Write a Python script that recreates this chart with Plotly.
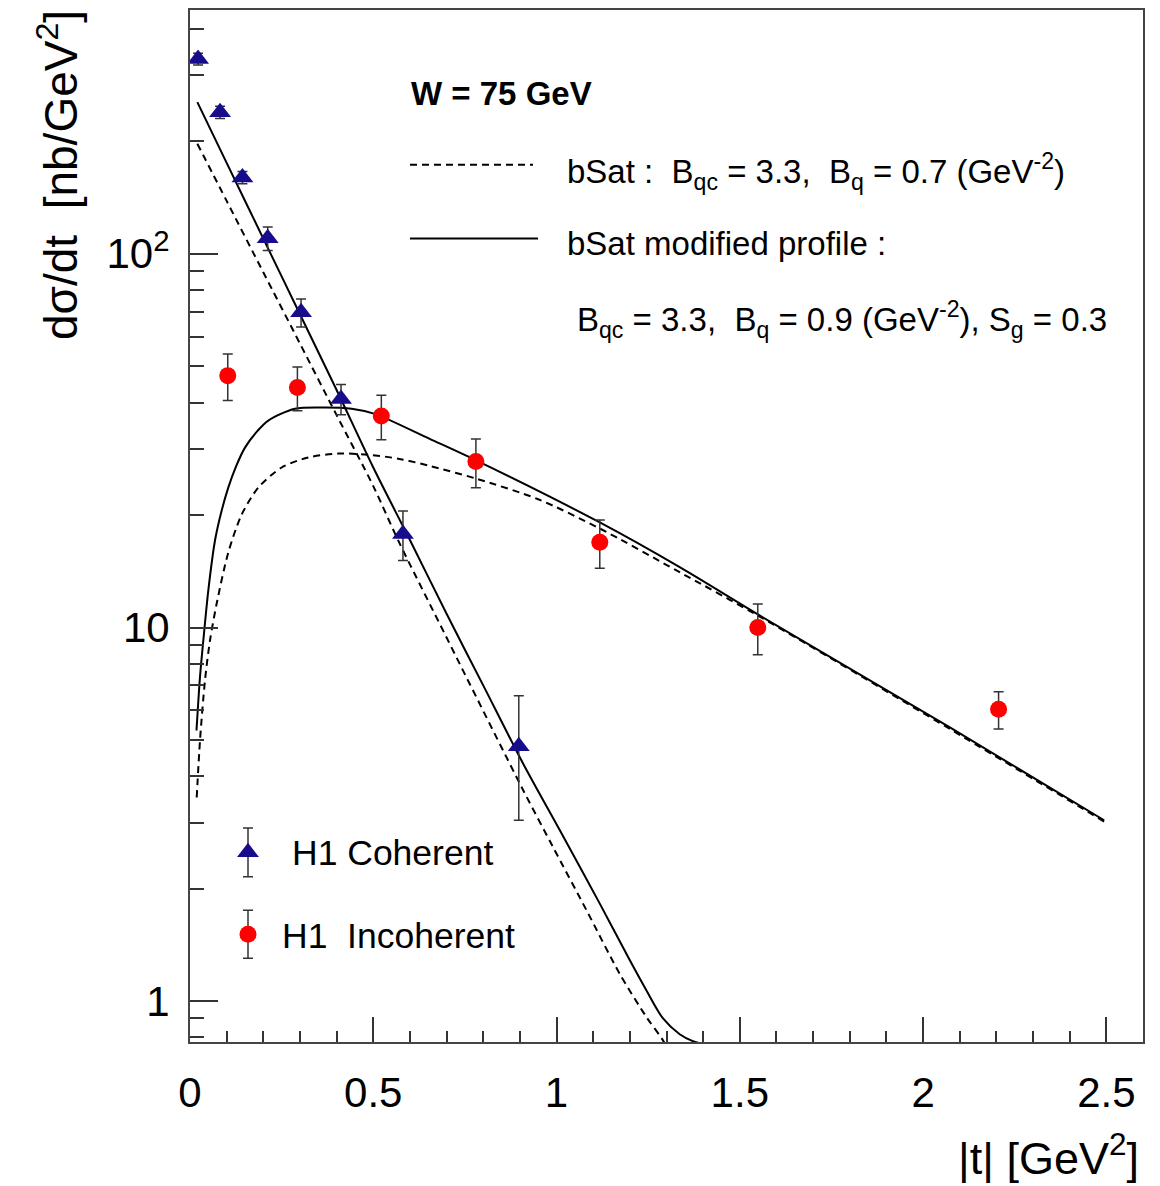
import math
import plotly.graph_objects as go

# H1 J/psi data at W = 75 GeV: |t| [GeV^2], dsigma/dt [nb/GeV^2], stat. error
coh_t = [0.022, 0.082, 0.143, 0.212, 0.303, 0.412, 0.581, 0.897]
coh_v = [332, 239, 160, 110, 69.7, 40.9, 17.8, 4.81]
coh_err = [12, 9, 6, 8, 6, 3.8, 2.7, 1.76]

inc_t = [0.103, 0.293, 0.522, 0.78, 1.118, 1.549, 2.206]
inc_v = [47.2, 43.9, 36.8, 27.8, 16.9, 10.0, 6.04]
inc_err = [6.7, 5.9, 5.0, 4.15, 2.5, 1.55, 0.69]

# bSat predictions (Bqc = 3.3, Bq = 0.7)
coh_bsat_t = [0.02, 0.1, 0.2, 0.3, 0.4, 0.5, 0.568, 0.7, 0.909, 0.99, 1.082, 1.172, 1.245, 1.29, 1.35]
coh_bsat_v = [197, 138.5, 89.2, 57.5, 37.0, 23.9, 17.1, 9.4, 3.67, 2.59, 1.75, 1.186, 0.908, 0.787, 0.62]
inc_bsat_t = [0.0183, 0.0273, 0.0409, 0.0545, 0.0728, 0.1044, 0.141, 0.1862, 0.25, 0.3225, 0.4043,
              0.486, 0.568, 0.654, 0.782, 0.95, 1.118, 1.336, 1.554, 2.072, 2.5]
inc_bsat_v = [3.51, 4.99, 7.22, 9.23, 11.59, 15.87, 20.05, 23.67, 26.8, 28.5, 29.2,
              29.0, 28.3, 27.06, 25.0, 22.04, 18.4, 14.06, 10.7, 5.36, 3.0]

# bSat with modified profile (Bqc = 3.3, Bq = 0.9, Sg = 0.3)
coh_mod_t = [0.02, 0.1, 0.2, 0.3, 0.4, 0.5, 0.6, 0.7, 0.8, 0.909, 1.009, 1.118, 1.2, 1.245, 1.29,
             1.336, 1.372, 1.42]
coh_mod_v = [254.6, 175.1, 109.8, 68.9, 43.2, 26.8, 17.15, 10.88, 7.0, 4.32, 2.866, 1.825, 1.287, 1.07, 0.901,
             0.816, 0.782, 0.76]
inc_mod_t = [0.0177, 0.0273, 0.0363, 0.0499, 0.0682, 0.0864, 0.1044, 0.1254, 0.15, 0.18, 0.2135,
             0.286, 0.368, 0.441, 0.504, 0.654, 0.782, 1.118, 1.336, 1.554, 2.072, 2.494]
inc_mod_v = [5.30, 7.39, 9.23, 12.56, 17.09, 20.55, 23.67, 26.95, 30.29, 33.22, 35.78,
             38.5, 38.8, 38.5, 37.3, 31.96, 27.96, 19.1, 14.5, 10.77, 5.41, 3.05]

x_ticks = [0, 0.5, 1, 1.5, 2, 2.5]
x_ticklabels = ["0", "0.5", "1", "1.5", "2", "2.5"]
y_ticks = [1, 10, 100]
y_ticklabels = ["1", "10", "10<sup>2</sup>"]
y_minor = [0.8, 0.9, 2, 3, 4, 5, 6, 7, 8, 9, 20, 30, 40, 50, 60, 70, 80, 90, 200, 300, 400]

FONT = "Liberation Sans, Arial, Helvetica, sans-serif"
NAVY = "#170c8c"
RED = "#ff0000"
ERR = "#333333"

W, H = 1160, 1186
L, R, T, B = 190, 17, 8, 144
PW, PH = W - L - R, H - T - B


def px(xp):
    return (xp - L) / PW


def py(yp):
    return (H - B - yp) / PH


fig = go.Figure()

line_sets = [
    (coh_bsat_t, coh_bsat_v, "7px,5px"),
    (inc_bsat_t, inc_bsat_v, "7px,5px"),
    (coh_mod_t, coh_mod_v, "solid"),
    (inc_mod_t, inc_mod_v, "solid"),
]
for tt, vv, dash in line_sets:
    fig.add_trace(go.Scatter(x=tt, y=vv, mode="lines",
                             line=dict(color="black", width=2, dash=dash, shape="spline", smoothing=0.8),
                             showlegend=False, hoverinfo="skip"))

fig.add_trace(go.Scatter(
    x=inc_t, y=inc_v, mode="markers",
    marker=dict(symbol="circle", size=17, color=RED),
    error_y=dict(type="data", array=inc_err, color=ERR, thickness=1.5, width=5),
    showlegend=False))
fig.add_trace(go.Scatter(
    x=coh_t, y=coh_v, mode="markers",
    marker=dict(symbol="triangle-up", size=19, color=NAVY),
    error_y=dict(type="data", array=coh_err, color=ERR, thickness=1.5, width=5),
    showlegend=False))

# legend glyphs drawn on an overlay frame spanning the plot area
leg_x = [px(248), px(248)]
leg_y = [py(852), py(934)]
fig.add_trace(go.Scatter(
    x=[leg_x[0]], y=[leg_y[0]], xaxis="x2", yaxis="y2", mode="markers",
    marker=dict(symbol="triangle-up", size=19, color=NAVY),
    error_y=dict(type="constant", value=24.5 / PH, color=ERR, thickness=1.5, width=5),
    showlegend=False, hoverinfo="skip"))
fig.add_trace(go.Scatter(
    x=[leg_x[1]], y=[leg_y[1]], xaxis="x2", yaxis="y2", mode="markers",
    marker=dict(symbol="circle", size=17, color=RED),
    error_y=dict(type="constant", value=24 / PH, color=ERR, thickness=1.5, width=5),
    showlegend=False, hoverinfo="skip"))

shapes = [
    dict(type="line", xref="paper", yref="paper", x0=px(410), x1=px(533), y0=py(163), y1=py(163),
         line=dict(color="black", width=2, dash="7px,5px")),
    dict(type="line", xref="paper", yref="paper", x0=px(410), x1=px(538), y0=py(237), y1=py(237),
         line=dict(color="black", width=2)),
]

ann_font = dict(family=FONT, size=33, color="black")
leg_font = dict(family=FONT, size=35.5, color="black")
annotations = [
    dict(text="<b>W = 75 GeV</b>", x=px(409), y=py(92), xanchor="left", yanchor="middle",
         font=dict(family=FONT, size=33, color="black")),
    dict(text="bSat :\u00a0 B<sub>qc</sub> = 3.3,\u00a0 B<sub>q</sub> = 0.7 (GeV<sup>-2</sup>)",
         x=px(565), y=py(170), xanchor="left", yanchor="middle", font=ann_font),
    dict(text="bSat modified profile :", x=px(565), y=py(242), xanchor="left", yanchor="middle", font=ann_font),
    dict(text="B<sub>qc</sub> = 3.3,\u00a0 B<sub>q</sub> = 0.9 (GeV<sup>-2</sup>), S<sub>g</sub> = 0.3",
         x=px(575), y=py(318), xanchor="left", yanchor="middle", font=ann_font),
    dict(text="H1 Coherent", x=px(290), y=py(853), xanchor="left", yanchor="middle", font=leg_font),
    dict(text="H1\u00a0 Incoherent", x=px(280), y=py(936), xanchor="left", yanchor="middle", font=leg_font),
    dict(text="|t| [GeV<sup>2</sup>]", x=px(1141), y=py(1155), xanchor="right", yanchor="middle",
         font=dict(family=FONT, size=45, color="black")),
    dict(text="d\u03c3/dt\u00a0 [nb/GeV<sup>2</sup>]", x=px(58), y=py(6), xanchor="center", yanchor="top",
         textangle=-90, font=dict(family=FONT, size=46, color="black")),
]
for a in annotations:
    a.update(xref="paper", yref="paper", showarrow=False)

fig.update_layout(
    width=W, height=H,
    margin=dict(l=L, r=R, t=T, b=B),
    paper_bgcolor="white", plot_bgcolor="white",
    font=dict(family=FONT, color="black"),
    shapes=shapes, annotations=annotations,
    xaxis=dict(
        range=[0, 2.6], tickmode="array", tickvals=x_ticks, ticktext=x_ticklabels,
        ticks="inside", ticklen=25, tickwidth=1.5, tickcolor="#333",
        minor=dict(dtick=0.1, tick0=0, ticks="inside", ticklen=11, tickwidth=1.5, tickcolor="#333"),
        showline=True, linecolor="#444", linewidth=2, mirror=True,
        showgrid=False, zeroline=False,
        tickfont=dict(family=FONT, size=42), ticklabelstandoff=13,
    ),
    yaxis=dict(
        type="log", range=[math.log10(0.778), math.log10(449)],
        tickmode="array", tickvals=y_ticks, ticktext=y_ticklabels,
        ticks="inside", ticklen=28, tickwidth=1.5, tickcolor="#333",
        minor=dict(tickmode="array", tickvals=y_minor, ticks="inside", ticklen=14, tickwidth=1.5,
                   tickcolor="#333", showgrid=False),
        showline=True, linecolor="#444", linewidth=2, mirror=True,
        showgrid=False, zeroline=False,
        tickfont=dict(family=FONT, size=42), ticklabelstandoff=10,
    ),
    xaxis2=dict(overlaying="x", range=[0, 1], visible=False),
    yaxis2=dict(overlaying="y", range=[0, 1], visible=False),
)

fig.write_html("out.html")
